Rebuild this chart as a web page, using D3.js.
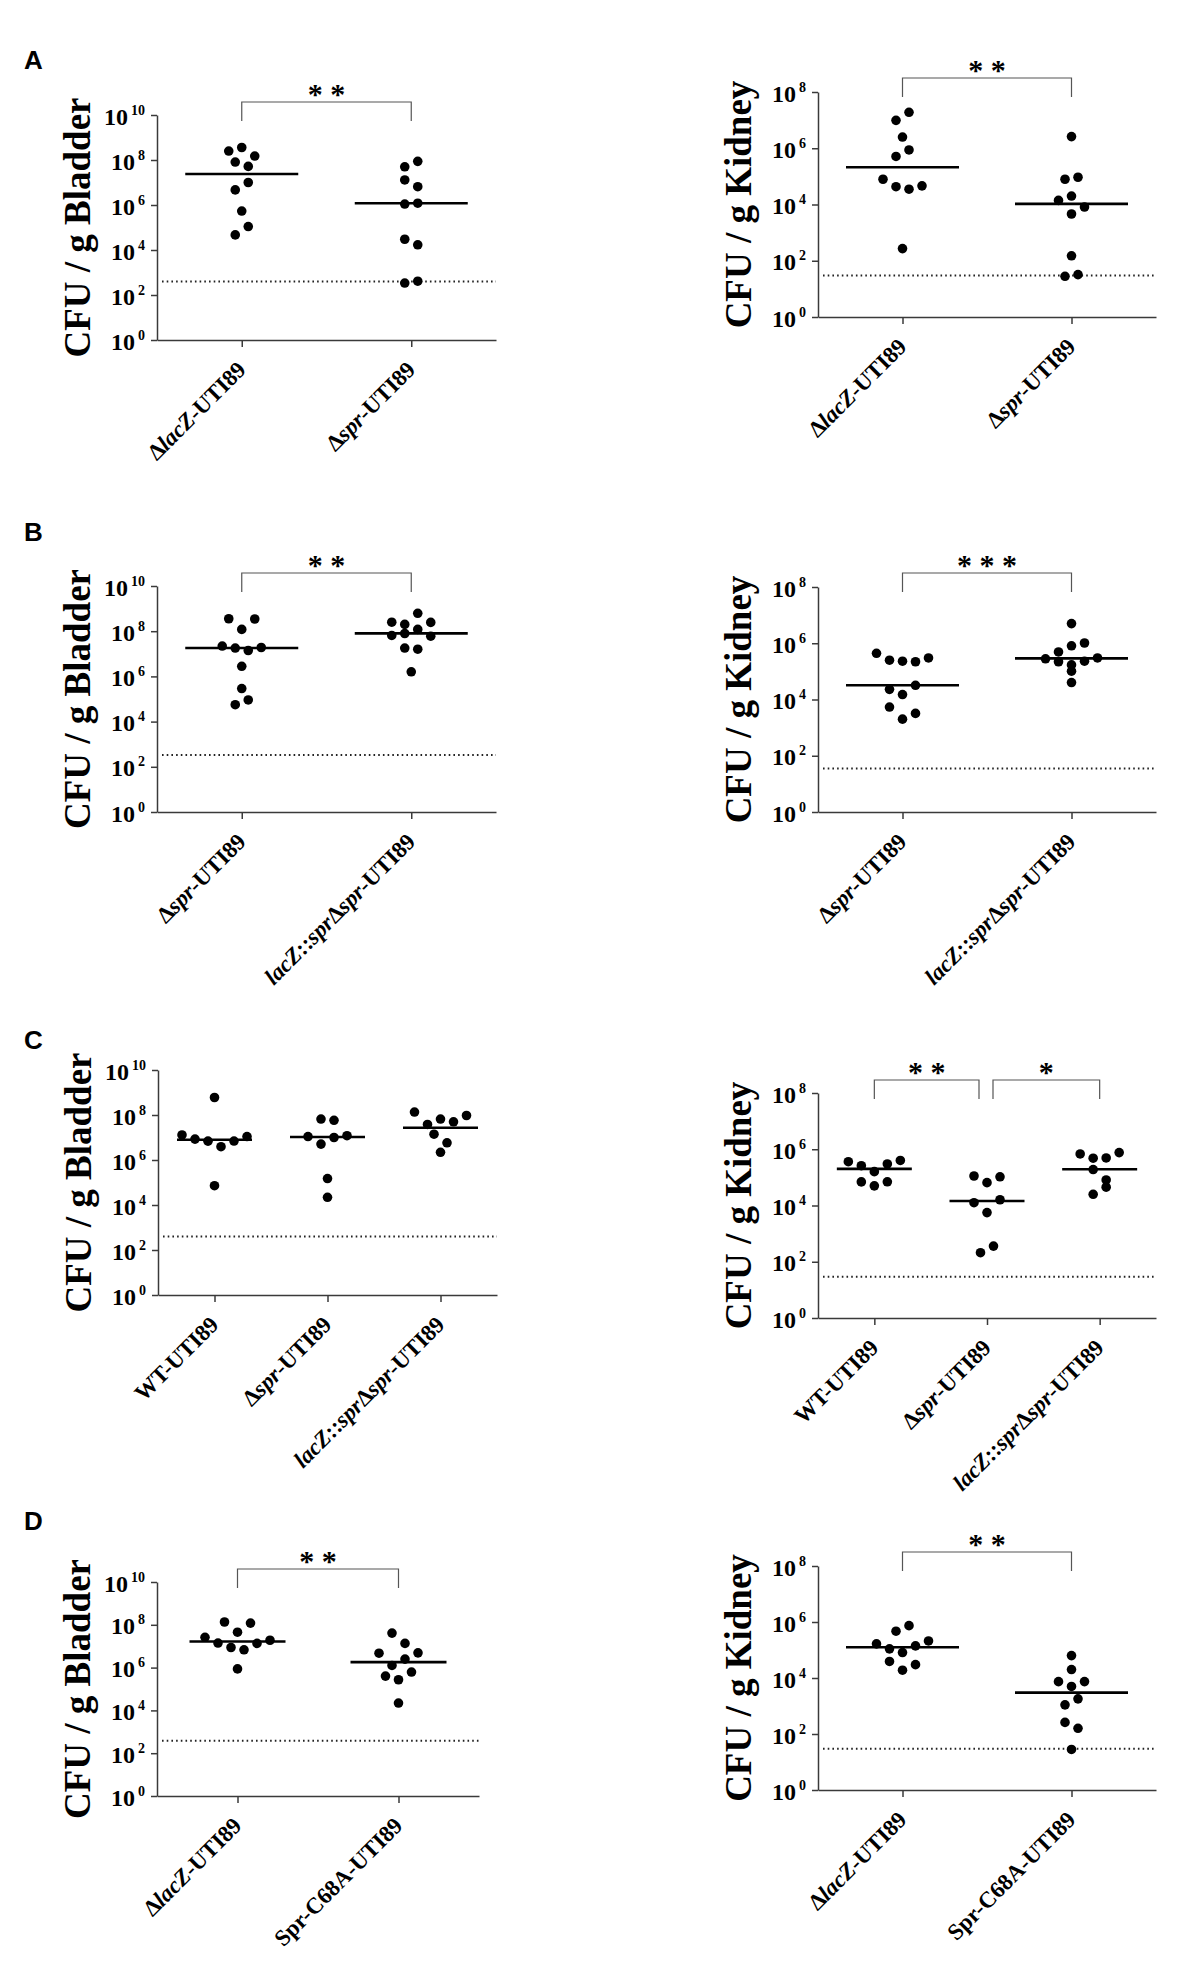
<!DOCTYPE html>
<html><head><meta charset="utf-8">
<script src="https://cdn.jsdelivr.net/npm/d3@7"></script>
<style>body{margin:0;background:#fff}svg{display:block}</style>
</head><body>
<svg id="chart" width="1183" height="1975"></svg>
<script>
// ---------- categories ----------
const catsA = ["ΔlacZ-UTI89", "Δspr-UTI89"];
const catsB = ["Δspr-UTI89", "lacZ::sprΔspr-UTI89"];
const catsC = ["WT-UTI89", "Δspr-UTI89", "lacZ::sprΔspr-UTI89"];
const catsD = ["ΔlacZ-UTI89", "Spr-C68A-UTI89"];
const titleBladder = "CFU / g Bladder";
const titleKidney = "CFU / g Kidney";
const bladderTicks = [1, 1e2, 1e4, 1e6, 1e8, 1e10];
const kidneyTicks = [1, 1e2, 1e4, 1e6, 1e8];

// ---------- values (CFU / g) ----------
const A_bladder_dlacZ = [8.1e7, 2.5e8, 4.7e6, 4.7e4, 5.2e7, 5.4e5, 3.6e8, 1.0e7, 1.1e5, 1.5e8];
const A_bladder_dspr  = [5.0e7, 1.3e7, 1.1e6, 3.0e4, 340, 8.7e7, 6.5e6, 1.2e6, 1.7e4, 410];
const A_kidney_dlacZ  = [7.9e4, 9.8e6, 5.1e5, 4.3e4, 2.5e6, 270, 1.9e7, 8.7e5, 3.5e4, 4.6e4];
const A_kidney_dspr   = [1.4e4, 7.9e4, 28, 2.6e6, 2.0e4, 4.6e3, 150, 9.3e4, 32, 8.1e3];

const B_bladder_dspr     = [2.2e7, 3.55e8, 1.8e7, 5.6e4, 1.2e8, 2.8e6, 2.9e5, 1.4e7, 9.1e4, 3.47e8, 1.9e7];
const B_bladder_lacZspr  = [2.5e8, 6.5e7, 2.0e8, 1.8e7, 6.2e8, 7.9e7, 1.6e6, 1.6e7, 1.2e8, 6.0e7, 2.45e8];
const B_kidney_dspr      = [4.4e5, 2.5e5, 2.3e4, 5.4e3, 2.3e5, 1.5e4, 2.0e3, 2.2e5, 3.2e4, 3.2e3, 3.0e5];
const B_kidney_lacZspr   = [4.9e5, 2.8e5, 8.1e5, 2.2e5, 4.0e4, 5.0e6, 1.02e6, 1.02e5, 1.7e5, 2.3e5, 3.0e5];

const C_bladder_WT       = [1.3e7, 8.5e6, 6.9e6, 6.0e8, 7.2e4, 3.9e6, 6.95e6, 1.1e7];
const C_bladder_dspr     = [1.1e7, 6.6e7, 5.1e6, 1.5e5, 2.2e4, 5.8e7, 1.0e7, 1.2e7];
const C_bladder_lacZspr  = [1.35e8, 3.8e7, 2.2e6, 6.6e7, 1.4e7, 5.8e6, 5.0e7, 9.5e7];
const C_kidney_WT        = [3.6e5, 2.6e5, 6.9e4, 1.6e5, 5.0e4, 3.0e5, 6.95e4, 4.0e5];
const C_kidney_dspr      = [1.12e5, 1.26e4, 210, 6.5e4, 5.6e3, 360, 1.05e5, 1.6e4];
const C_kidney_lacZspr   = [6.8e5, 4.8e5, 1.9e5, 2.5e4, 4.9e5, 4.5e4, 8.1e4, 7.6e5];

const D_bladder_dlacZ = [2.6e7, 1.4e7, 1.35e8, 8.7e6, 4.5e7, 8.7e5, 6.8e6, 1.2e8, 1.35e7, 1.9e7];
const D_bladder_C68A  = [4.7e6, 4.0e5, 4.1e7, 1.26e6, 2.7e5, 2.2e4, 1.35e7, 2.5e6, 6.2e5, 4.9e6];
const D_kidney_dlacZ  = [1.66e5, 1.1e5, 3.9e4, 4.7e5, 8.1e4, 1.9e4, 7.4e5, 1.4e5, 3.0e4, 2.1e5];
const D_kidney_C68A   = [7.4e3, 1.1e3, 260, 6.3e4, 2.0e4, 5.0e3, 28, 1.8e3, 160, 7.45e3];

// medians (horizontal bars) and detection limits (dotted lines)
const A_bladder_median = [2.4e7, 1.2e6];
const A_kidney_median  = [2.1e5, 1.05e4];
const B_bladder_median = [1.8e7, 8.0e7];
const B_kidney_median  = [3.2e4, 2.9e5];
const C_bladder_median = [8.0e6, 1.05e7, 2.7e7];
const C_kidney_median  = [2.0e5, 1.45e4, 1.95e5];
const D_bladder_median = [1.65e7, 1.8e6];
const D_kidney_median  = [1.26e5, 3.0e3];
const limits = {A_bladder: 400, A_kidney: 30, B_bladder: 330, B_kidney: 35, C_bladder: 400, C_kidney: 29, D_bladder: 380, D_kidney: 30};

// significance
const sigA_bladder = ["**"], sigA_kidney = ["**"];
const sigB_bladder = ["**"], sigB_kidney = ["***"];
const sigC_kidney = ["**", "*"];
const sigD_bladder = ["**"], sigD_kidney = ["**"];

// ---------- panel layout ----------
const panels = [
  {cats: catsA, vals: [A_bladder_dlacZ, A_bladder_dspr], med: A_bladder_median, lim: limits.A_bladder, ticks: bladderTicks, title: titleBladder,
   x0: 157, x1: 496, yTop: 115, yBot: 340, medW: 113, br: [{a: 0, b: 1, y: 102, s: sigA_bladder[0]}]},
  {cats: catsA, vals: [A_kidney_dlacZ, A_kidney_dspr], med: A_kidney_median, lim: limits.A_kidney, ticks: kidneyTicks, title: titleKidney,
   x0: 818, x1: 1156, yTop: 92, yBot: 317, medW: 113, br: [{a: 0, b: 1, y: 78, s: sigA_kidney[0]}]},
  {cats: catsB, vals: [B_bladder_dspr, B_bladder_lacZspr], med: B_bladder_median, lim: limits.B_bladder, ticks: bladderTicks, title: titleBladder,
   x0: 157, x1: 496, yTop: 586, yBot: 812, medW: 113, br: [{a: 0, b: 1, y: 573, s: sigB_bladder[0]}]},
  {cats: catsB, vals: [B_kidney_dspr, B_kidney_lacZspr], med: B_kidney_median, lim: limits.B_kidney, ticks: kidneyTicks, title: titleKidney,
   x0: 818, x1: 1156, yTop: 587, yBot: 812, medW: 113, br: [{a: 0, b: 1, y: 573, s: sigB_kidney[0]}]},
  {cats: catsC, vals: [C_bladder_WT, C_bladder_dspr, C_bladder_lacZspr], med: C_bladder_median, lim: limits.C_bladder, ticks: bladderTicks, title: titleBladder,
   x0: 158, x1: 497, yTop: 1070, yBot: 1295, medW: 75, br: []},
  {cats: catsC, vals: [C_kidney_WT, C_kidney_dspr, C_kidney_lacZspr], med: C_kidney_median, lim: limits.C_kidney, ticks: kidneyTicks, title: titleKidney,
   x0: 818, x1: 1156, yTop: 1093, yBot: 1318, medW: 75,
   br: [{a: 0, b: 1, y: 1080, s: sigC_kidney[0], inB: 8}, {a: 1, b: 2, y: 1080, s: sigC_kidney[1], inA: 6}]},
  {cats: catsD, vals: [D_bladder_dlacZ, D_bladder_C68A], med: D_bladder_median, lim: limits.D_bladder, ticks: bladderTicks, title: titleBladder,
   x0: 157, x1: 479, yTop: 1582, yBot: 1796, medW: 96, br: [{a: 0, b: 1, y: 1569, s: sigD_bladder[0]}]},
  {cats: catsD, vals: [D_kidney_dlacZ, D_kidney_C68A], med: D_kidney_median, lim: limits.D_kidney, ticks: kidneyTicks, title: titleKidney,
   x0: 818, x1: 1156, yTop: 1566, yBot: 1790, medW: 113, br: [{a: 0, b: 1, y: 1552, s: sigD_kidney[0]}]}
];
const letters = [{t: "A", y: 69}, {t: "B", y: 541}, {t: "C", y: 1049}, {t: "D", y: 1530}];

const SERIF = "'Liberation Serif','Times New Roman',serif";
const SANS = "'Liberation Sans',Arial,sans-serif";
const AXIS = "#3a3a3a";
const svg = d3.select("#chart");

letters.forEach(l => svg.append("text").attr("x", 24).attr("y", l.y)
  .attr("font-family", SANS).attr("font-weight", "bold").attr("font-size", 26).text(l.t));

// Prism-like scatter: points close in y share a row and are spread symmetrically
function swarm(values, y, cx, spacing) {
  const pts = values.map((v, i) => ({v, i, py: y(v)}));
  const sorted = pts.slice().sort((a, b) => a.py - b.py);
  const rows = [];
  let cur = null;
  sorted.forEach(p => {
    if (cur && p.py - cur[cur.length - 1].py < 11 && p.py - cur[0].py < 13) cur.push(p);
    else { cur = [p]; rows.push(cur); }
  });
  rows.forEach(r => {
    r.sort((a, b) => a.i - b.i);
    r.forEach((p, k) => { p.px = cx + (k - (r.length - 1) / 2) * spacing; });
  });
  return pts;
}

panels.forEach(P => {
  const g = svg.append("g");
  const y = d3.scaleLog().domain([1, P.ticks[P.ticks.length - 1]]).range([P.yBot, P.yTop]);
  const x = d3.scalePoint().domain(P.cats).range([P.x0, P.x1]).padding(0.5);

  // y axis
  const gy = g.append("g").attr("transform", `translate(${P.x0},0)`)
    .call(d3.axisLeft(y).tickValues(P.ticks).tickSize(6).tickSizeOuter(0).tickPadding(6).tickFormat(() => ""));
  gy.selectAll("path,line").attr("stroke", AXIS).attr("stroke-width", 1.5);
  gy.attr("font-family", SERIF).attr("font-size", 24).attr("font-weight", "bold");
  gy.selectAll(".tick text").each(function(d) {
    const t = d3.select(this).attr("dy", null).attr("y", 9).attr("fill", "#000");
    t.append("tspan").text("10");
    t.append("tspan").attr("dx", 3).attr("dy", -10).attr("font-size", 14).text(Math.round(Math.log10(d)));
  });

  // x axis
  const gx = g.append("g").attr("transform", `translate(0,${P.yBot})`)
    .call(d3.axisBottom(x).tickSize(7).tickSizeOuter(0).tickFormat(() => ""));
  gx.selectAll("path,line").attr("stroke", AXIS).attr("stroke-width", 1.5);
  gx.selectAll(".tick text").remove();
  gx.selectAll(".tick").append("text")
    .attr("transform", "translate(5,31) rotate(-45)")
    .attr("text-anchor", "end").attr("font-family", SERIF).attr("font-size", 23).attr("font-weight", "bold").attr("fill", "#000")
    .each(function(d) {
      const t = d3.select(this);
      d.split(/(lacZ|spr)/).filter(s => s.length).forEach(s => {
        t.append("tspan").attr("font-style", (s === "lacZ" || s === "spr") ? "italic" : "normal").text(s);
      });
    });

  // y title
  g.append("text").attr("transform", `translate(${P.x0 - 67},${(P.yTop + P.yBot) / 2}) rotate(-90)`)
    .attr("text-anchor", "middle").attr("font-family", SERIF).attr("font-weight", "bold").attr("font-size", 37)
    .text(P.title);

  // detection limit
  g.append("line").attr("x1", P.x0 + 5).attr("x2", P.x1).attr("y1", y(P.lim)).attr("y2", y(P.lim))
    .attr("stroke", "#222").attr("stroke-width", 2).attr("stroke-dasharray", "1.6 3.1");

  // points
  P.vals.forEach((vals, gi) => {
    const cx = x(P.cats[gi]);
    const pts = swarm(vals, y, cx, 13);
    g.append("g").selectAll("circle").data(pts).join("circle")
      .attr("cx", d => d.px).attr("cy", d => d.py).attr("r", 4.8).attr("fill", "#000");
    g.append("line").attr("x1", cx - P.medW / 2).attr("x2", cx + P.medW / 2)
      .attr("y1", y(P.med[gi])).attr("y2", y(P.med[gi])).attr("stroke", "#000").attr("stroke-width", 2.6);
  });

  // significance brackets
  P.br.forEach(b => {
    const xa = x(P.cats[b.a]) + (b.inA || 0), xb = x(P.cats[b.b]) - (b.inB || 0);
    g.append("path").attr("d", `M${xa},${b.y + 19}V${b.y}H${xb}V${b.y + 19}`)
      .attr("fill", "none").attr("stroke", "#555").attr("stroke-width", 1.2);
    g.append("text").attr("x", (xa + xb) / 2).attr("y", b.y + 2).attr("text-anchor", "middle")
      .attr("font-family", SERIF).attr("font-weight", "bold").attr("font-size", 30).text(b.s.split("").join(" "));
  });
});
</script>
</body></html>
